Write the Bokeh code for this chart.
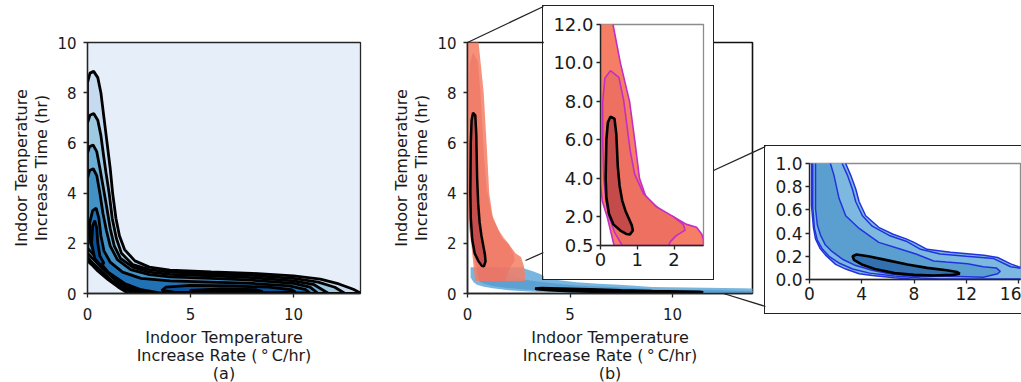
from bokeh.plotting import figure
from bokeh.models import Range1d, FixedTicker, PrintfTickFormatter
from bokeh.embed import file_html
from bokeh.resources import INLINE

FONT = "DejaVu Sans"

# ---------------- data ----------------
# Panel (a): nested KDE contour regions (x = rate degC/hr, y = time hr)
A1_X = [0.0, 0.0, 0.12, 0.3, 0.5, 0.65, 0.8, 0.95, 1.1, 1.22, 1.38, 1.55, 1.8, 2.3, 3.0, 4.0, 6.0, 8.0, 10.0, 11.3, 12.2, 12.9, 13.3, 2.0, 1.5, 1.0, 0.5, 0.2]
A1_Y = [1.3, 8.4, 8.78, 8.85, 8.6, 8.0, 7.0, 6.0, 5.0, 4.0, 3.0, 2.3, 1.75, 1.3, 1.05, 0.93, 0.86, 0.8, 0.7, 0.57, 0.38, 0.17, 0.0, 0.0, 0.25, 0.55, 0.9, 1.15]
A2_X = [0.0, 0.0, 0.12, 0.3, 0.5, 0.65, 0.78, 0.9, 1.05, 1.2, 1.4, 1.65, 2.2, 3.0, 4.0, 6.0, 8.0, 10.0, 11.2, 12.0, 12.5, 2.3, 1.8, 1.2, 0.6, 0.2]
A2_Y = [1.45, 6.8, 7.1, 7.17, 6.9, 6.3, 5.5, 4.8, 4.0, 3.0, 2.2, 1.6, 1.15, 0.95, 0.85, 0.78, 0.72, 0.6, 0.45, 0.25, 0.0, 0.0, 0.2, 0.5, 0.95, 1.25]
A3_X = [0.0, 0.0, 0.1, 0.27, 0.45, 0.6, 0.75, 0.92, 1.1, 1.3, 1.6, 2.2, 3.0, 4.0, 6.0, 8.0, 10.0, 11.0, 11.7, 2.6, 2.0, 1.4, 0.8, 0.3]
A3_Y = [1.6, 5.6, 5.85, 5.92, 5.65, 5.0, 4.3, 3.5, 2.6, 1.9, 1.4, 1.05, 0.85, 0.76, 0.7, 0.63, 0.5, 0.35, 0.0, 0.0, 0.2, 0.5, 0.95, 1.35]
A4_X = [0.0, 0.0, 0.1, 0.28, 0.45, 0.6, 0.75, 0.92, 1.1, 1.45, 2.1, 3.0, 4.0, 6.0, 8.0, 10.0, 10.8, 11.2, 3.0, 2.3, 1.6, 0.9, 0.35]
A4_Y = [1.8, 4.6, 4.9, 4.97, 4.7, 4.0, 3.2, 2.5, 1.9, 1.35, 0.95, 0.75, 0.66, 0.6, 0.53, 0.4, 0.25, 0.0, 0.0, 0.15, 0.45, 0.95, 1.5]
A5_X = [0.15, 0.1, 0.25, 0.42, 0.55, 0.65, 0.8, 1.1, 1.7, 2.6, 4.0, 6.0, 8.0, 9.8, 10.6, 10.8, 3.5, 2.6, 1.8, 1.0, 0.45]
A5_Y = [2.0, 2.8, 3.3, 3.4, 3.0, 2.3, 1.7, 1.25, 0.85, 0.6, 0.5, 0.45, 0.4, 0.3, 0.15, 0.02, 0.02, 0.15, 0.4, 0.85, 1.4]
A6_X = [3.6, 3.8, 5.0, 7.0, 8.8, 9.9, 10.1, 9.0, 6.0, 4.2]
A6_Y = [0.12, 0.25, 0.32, 0.3, 0.25, 0.15, 0.05, 0.03, 0.03, 0.05]
A6B_X = [0.35, 0.2, 0.25, 0.35, 0.45, 0.5, 0.6, 0.8, 0.6]
A6B_Y = [1.4, 2.0, 2.7, 2.9, 2.6, 2.0, 1.5, 1.2, 1.15]
A7_X = [5.0, 6.5, 8.2, 8.5, 6.5, 5.0]
A7_Y = [0.12, 0.18, 0.15, 0.08, 0.06, 0.08]
A_FILLS = ["#c6dbef", "#9ecae1", "#6baed6", "#4292c6", "#2171b5", "#08519c", "#08519c", "#08306b"]

# Panel (b): red KDE (first group) and blue KDE (second group)
R1_X = [0.0, 0.0, 0.0, 0.05, 0.18, 0.37, 2.8, 2.8, 2.75, 2.61, 2.34, 1.98, 1.71, 1.24, 1.06, 0.93, 0.79, 0.54, 0.34, 0.3]
R1_Y = [13.0, 12.0, 3.7, 2.8, 2.0, 0.5, 0.5, 0.8, 1.1, 1.45, 1.6, 2.0, 2.2, 3.0, 4.0, 6.0, 8.0, 10.0, 12.0, 13.0]
R2_X = [0.27, 0.12, 0.06, 0.06, 0.09, 0.15, 0.23, 0.38, 0.59, 1.85, 1.9, 2.05, 2.3, 2.25, 1.98, 1.53, 1.17, 0.93, 0.81, 0.63, 0.5]
R2_Y = [9.6, 9.2, 8.0, 6.0, 4.0, 2.8, 2.0, 1.2, 0.5, 0.5, 0.7, 1.0, 1.3, 1.6, 2.0, 2.5, 3.2, 4.2, 5.4, 8.05, 9.25]
R3_X = [0.27, 0.2, 0.16, 0.14, 0.16, 0.23, 0.35, 0.54, 0.7, 0.8, 0.88, 0.85, 0.77, 0.68, 0.59, 0.52, 0.47, 0.43, 0.38]
R3_Y = [7.2, 6.9, 6.0, 4.0, 3.0, 2.15, 1.6, 1.28, 1.1, 1.08, 1.28, 1.55, 1.9, 2.3, 2.84, 3.6, 4.6, 6.3, 7.1]

B1_X = [0.15, 0.15, 0.3, 0.46, 0.8, 1.23, 2.0, 2.77, 3.8, 4.8, 6.5, 8.15, 17.0, 17.0, 16.0, 15.4, 14.4, 13.35, 10.8, 9.0, 8.0, 7.4, 6.4, 5.3, 4.3, 3.8, 3.54, 3.15, 2.77, 2.7]
B1_Y = [1.05, 0.64, 0.45, 0.35, 0.27, 0.21, 0.13, 0.09, 0.05, 0.035, 0.015, 0.0, 0.0, 0.09, 0.11, 0.135, 0.19, 0.21, 0.235, 0.26, 0.32, 0.35, 0.39, 0.45, 0.55, 0.67, 0.78, 0.9, 1.0, 1.05]
B2_X = [0.25, 0.25, 0.38, 0.6, 1.0, 1.5, 2.3, 3.3, 4.6, 6.5, 8.5, 10.0, 17.0, 17.0, 16.0, 15.4, 14.1, 12.0, 10.0, 8.5, 7.4, 6.1, 4.8, 4.05, 3.54, 3.28, 2.9, 2.5, 2.45]
B2_Y = [1.05, 0.62, 0.44, 0.34, 0.26, 0.2, 0.14, 0.09, 0.055, 0.03, 0.012, 0.005, 0.005, 0.08, 0.1, 0.11, 0.18, 0.2, 0.22, 0.26, 0.33, 0.38, 0.46, 0.55, 0.67, 0.78, 0.9, 1.0, 1.05]
B3_X = [0.46, 0.46, 0.6, 0.85, 1.2, 1.74, 2.6, 3.54, 4.8, 6.1, 8.15, 9.5, 11.5, 13.3, 14.4, 14.6, 14.3, 13.3, 12.1, 10.5, 9.5, 8.15, 7.0, 5.3, 3.8, 2.77, 2.26, 1.87, 1.6, 1.58]
B3_Y = [1.05, 0.61, 0.47, 0.38, 0.3, 0.24, 0.17, 0.12, 0.08, 0.05, 0.025, 0.03, 0.025, 0.02, 0.05, 0.07, 0.1, 0.11, 0.135, 0.15, 0.16, 0.22, 0.26, 0.32, 0.44, 0.55, 0.7, 0.9, 1.0, 1.05]
B4_X = [3.3, 3.6, 4.5, 6.0, 7.5, 9.0, 10.5, 11.3, 11.5, 11.0, 9.5, 8.0, 6.5, 5.0, 4.0, 3.4]
B4_Y = [0.2, 0.215, 0.2, 0.165, 0.13, 0.1, 0.08, 0.065, 0.05, 0.04, 0.035, 0.04, 0.055, 0.09, 0.13, 0.17]

MAIN_XTICKS = [0, 5, 10]
MAIN_YTICKS = [0, 2, 4, 6, 8, 10]
INSET1_XTICKS = [0, 1, 2]
INSET1_YTICKS = [0.5, 2.0, 4.0, 6.0, 8.0, 10.0, 12.0]
INSET2_XTICKS = [0, 4, 8, 12, 16]
INSET2_YTICKS = [0.0, 0.2, 0.4, 0.6, 0.8, 1.0]

XLABEL = "Indoor Temperature\nIncrease Rate (\u2009\u00b0\u2009C/hr)"
YLABEL = "Indoor Temperature\nIncrease Time (hr)"

# connector lines of the inset marks (page pixel coordinates)
CON_X0 = [467, 525, 713, 723]
CON_Y0 = [42, 260, 170, 293]
CON_X1 = [543, 543, 765, 765]
CON_Y1 = [6, 252, 146, 306]


def make_fig(xr, yr, fw, fh, bl, br, bt, bb, left, top, extra=None):
    p = figure(x_range=Range1d(*xr), y_range=Range1d(*yr),
               frame_width=fw, frame_height=fh,
               min_border_left=bl, min_border_right=br,
               min_border_top=bt, min_border_bottom=bb,
               toolbar_location=None, output_backend="svg")
    st = {"position": "absolute", "left": f"{left}px", "top": f"{top}px"}
    if extra:
        st.update(extra)
    p.styles = st
    p.grid.visible = False
    p.border_fill_color = "white"
    return p


def style_axes(p, xt, yt, size, fmt=None, outline="#262626"):
    p.xaxis.ticker = FixedTicker(ticks=xt)
    p.yaxis.ticker = FixedTicker(ticks=yt)
    if fmt:
        p.yaxis.formatter = PrintfTickFormatter(format=fmt)
    for ax in (p.xaxis[0], p.yaxis[0]):
        ax.axis_line_color = "#262626"
        ax.axis_line_width = 1.3
        ax.major_tick_line_color = "#262626"
        ax.major_tick_line_width = 1.3
        ax.major_tick_out = 4
        ax.major_tick_in = 0
        ax.minor_tick_line_color = None
        ax.major_label_text_font = FONT
        ax.major_label_text_font_size = f"{size}px"
        ax.major_label_text_color = "#1a1a1a"
        ax.major_label_standoff = 4
        ax.axis_label_text_font = FONT
        ax.axis_label_text_font_size = "16px"
        ax.axis_label_text_font_style = "normal"
        ax.axis_label_text_color = "#1a1a1a"
        ax.axis_label_text_line_height = 1.1
    p.outline_line_color = outline
    p.outline_line_width = 1.3


def main_axes(p, tag):
    style_axes(p, MAIN_XTICKS, MAIN_YTICKS, 15)
    p.xaxis.axis_label = XLABEL + "\n" + tag
    p.yaxis.axis_label = YLABEL
    p.xaxis.major_label_standoff = 10
    p.yaxis.major_label_standoff = 7
    p.xaxis.axis_label_standoff = 5
    p.yaxis.axis_label_standoff = 3
    p.xaxis.axis_label_text_line_height = 0.95


# ---------------- panel (a) ----------------
pa = make_fig((0, 13.25), (0, 10), 273, 251, 79, 12, 34, 86, 8, 8)
main_axes(pa, "(a)")
pa.background_fill_color = "#e6eff9"
a_xs = [A1_X, A2_X, A3_X, A4_X, A5_X, A6_X, A6B_X, A7_X]
a_ys = [A1_Y, A2_Y, A3_Y, A4_Y, A5_Y, A6_Y, A6B_Y, A7_Y]
for xs, ys, c in zip(a_xs, a_ys, A_FILLS):
    pa.patch(xs, ys, fill_color=c, line_color="black", line_width=2.8)

# ---------------- panel (b) ----------------
pb = make_fig((0, 13.9), (0, 10), 285, 251, 79, 12, 34, 86, 388, 8)
main_axes(pb, "(b)")
pb.outline_line_color = "#111111"
pb.outline_line_width = 1.6
pb.patch(B1_X, B1_Y, fill_color="#6aaedb", fill_alpha=0.9, line_color=None)
pb.patch(B3_X, B3_Y, fill_color="#5a9fd0", fill_alpha=0.9, line_color=None)
pb.patch(B4_X, B4_Y, fill_color="#2f6db0", line_color="black", line_width=2.5)
pb.patch(R1_X, R1_Y, fill_color="#f57e65", fill_alpha=0.85, line_color=None)
pb.patch(R2_X, R2_Y, fill_color="#ee7061", fill_alpha=0.6, line_color=None)
pb.patch(R3_X, R3_Y, fill_color="#c44b49", fill_alpha=0.95, line_color="black", line_width=2.5)

# ---------------- connector overlay ----------------
po = figure(x_range=Range1d(0, 1021), y_range=Range1d(382, 0),
            frame_width=1021, frame_height=382,
            min_border_left=0, min_border_right=0, min_border_top=0, min_border_bottom=0,
            x_axis_type=None, y_axis_type=None,
            toolbar_location=None, output_backend="svg")
po.styles = {"position": "absolute", "left": "0px", "top": "0px"}
po.grid.visible = False
po.background_fill_alpha = 0
po.border_fill_alpha = 0
po.outline_line_color = None
po.segment(CON_X0, CON_Y0, CON_X1, CON_Y1, line_color="#222222", line_width=1.3)

# ---------------- inset 1 (red) ----------------
p1 = make_fig((0, 2.8), (0.5, 12.0), 103, 221, 57, 10, 18, 34, 543, 6,
              {"outline": "1.5px solid #222222"})
style_axes(p1, INSET1_XTICKS, INSET1_YTICKS, 18, fmt="%.1f", outline="#8c8c8c")
p1.xaxis.major_label_standoff = 3
p1.yaxis.major_label_standoff = 3
p1.patch(R1_X, R1_Y, fill_color="#f57e65", line_color="#c42ec4", line_width=1.6)
p1.patch(R2_X, R2_Y, fill_color="#ee7061", line_color="#c42ec4", line_width=1.6)
p1.patch(R3_X, R3_Y, fill_color="#c44b49", line_color="black", line_width=2.6)

# ---------------- inset 2 (blue) ----------------
p2 = make_fig((0, 16.15), (0, 1.0), 211, 116, 44, 1, 17, 34, 765, 146,
              {"outline": "1.5px solid #222222"})
style_axes(p2, INSET2_XTICKS, INSET2_YTICKS, 17, fmt="%.1f", outline="#8c8c8c")
p2.xaxis.major_label_standoff = 3
p2.yaxis.major_label_standoff = 3
p2.patch(B1_X, B1_Y, fill_color="#7db8e0", line_color="#2233dd", line_width=1.5)
p2.patch(B2_X, B2_Y, fill_color="#7db8e0", line_color="#2233dd", line_width=1.5)
p2.patch(B3_X, B3_Y, fill_color="#5a9fd0", line_color="#2233dd", line_width=1.5)
p2.patch(B4_X, B4_Y, fill_color="#3270b0", line_color="black", line_width=2.6)

open("out.html", "w").write(file_html([pa, pb, po, p1, p2], INLINE))
